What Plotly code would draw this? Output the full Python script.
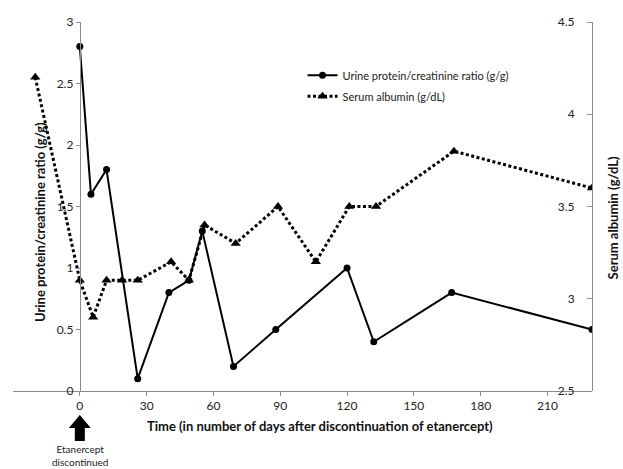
import plotly.graph_objects as go

# Data
urine_days = [0, 5, 12, 26, 40, 49, 55, 69, 88, 120, 132, 167, 230]
urine_ratio = [2.8, 1.6, 1.8, 0.1, 0.8, 0.9, 1.3, 0.2, 0.5, 1.0, 0.4, 0.8, 0.5]

albumin_days = [-20, 0, 6, 12, 19, 26, 41, 49, 56, 70, 89, 106, 121, 133, 168, 230]
albumin_val = [4.2, 3.1, 2.9, 3.1, 3.1, 3.1, 3.2, 3.1, 3.4, 3.3, 3.5, 3.2, 3.5, 3.5, 3.8, 3.6]

x_ticks = [0, 30, 60, 90, 120, 150, 180, 210]
x_range = [-30, 230]
left_ticks = [0, 0.5, 1, 1.5, 2, 2.5, 3]
right_ticks = [2.5, 3, 3.5, 4, 4.5]

FONT = "Lato"
AX = "#8c8c8c"

fig = go.Figure()
fig.add_trace(go.Scatter(
    x=urine_days, y=urine_ratio, mode="lines+markers",
    name="Urine protein/creatinine ratio (g/g)",
    line=dict(color="black", width=2),
    marker=dict(symbol="circle", size=7, color="black"),
    legendgroup="a", yaxis="y"))
fig.add_trace(go.Scatter(
    x=albumin_days, y=albumin_val, mode="lines+markers",
    name="Serum albumin (g/dL)",
    line=dict(color="black", width=3, dash="3px,2.5px"),
    marker=dict(symbol="triangle-up", size=9, color="black"),
    legendgroup="b", yaxis="y2"))

zero_pos = (0 - x_range[0]) / (x_range[1] - x_range[0])

fig.update_layout(
    width=623, height=469,
    margin=dict(l=13, r=31, t=22, b=78),
    paper_bgcolor="white", plot_bgcolor="white",
    font=dict(family=FONT, size=11, color="#222"),
    showlegend=True,
    legend=dict(x=0.50, y=0.895, xanchor="left", yanchor="top",
                bgcolor="rgba(0,0,0,0)", font=dict(size=11, color="#222"),
                traceorder="grouped", tracegroupgap=2),
    xaxis=dict(range=x_range, tickvals=x_ticks, showgrid=False, zeroline=False,
               showline=True, linecolor=AX, linewidth=1, ticks="outside",
               ticklen=4, tickcolor=AX, tickfont=dict(size=12, color="#222"),
               anchor="y"),
    yaxis=dict(range=[0, 3], tickvals=left_ticks, showgrid=False, zeroline=False,
               showline=True, linecolor=AX, linewidth=1, ticks="outside",
               ticklen=4, tickcolor=AX, anchor="free", position=zero_pos,
               tickfont=dict(size=12, color="#222")),
    yaxis2=dict(range=[2.5, 4.5], tickvals=right_ticks, showgrid=False,
                zeroline=False, showline=True, linecolor=AX, linewidth=1,
                ticks="outside", ticklen=5, tickcolor=AX, side="left",
                overlaying="y", anchor="free", position=1.0,
                ticklabelstandoff=10, tickfont=dict(size=12, color="#222")),
)

# Axis titles as annotations
fig.add_annotation(text="<b>Time (in number of days after discontinuation of etanercept)</b>",
                   xref="paper", yref="paper", x=0.531, y=-0.095,
                   xanchor="center", yanchor="middle",
                   showarrow=False, font=dict(size=13, color="#111"))
fig.add_annotation(text="<b>Urine protein/creatinine ratio (g/g)</b>",
                   xref="paper", yref="paper", x=0.0466, y=0.458, textangle=-90,
                   xanchor="center", yanchor="middle",
                   showarrow=False, font=dict(size=13, color="#111"))
fig.add_annotation(text="<b>Serum albumin (g/dL)</b>",
                   xref="paper", yref="paper", x=1.036, y=0.47, textangle=-90,
                   xanchor="center", yanchor="middle",
                   showarrow=False, font=dict(size=13, color="#111"))
fig.add_annotation(text="Etanercept<br>discontinued",
                   xref="x", yref="paper", x=0, y=-0.176,
                   xanchor="center", yanchor="middle",
                   showarrow=False, font=dict(size=10, color="#222"))

# Arrow marking discontinuation
fig.add_shape(type="path", xref="x", yref="paper", xsizemode="pixel", ysizemode="pixel",
              xanchor=0, yanchor=-0.1355,
              path="M-5,0 L5,0 L5,13 L11,13 L0,26 L-11,13 L-5,13 Z",
              fillcolor="black", line=dict(color="black", width=0))

fig.write_html("out.html", config={"displayModeBar": False},
               post_script="document.body.style.margin='0';")
